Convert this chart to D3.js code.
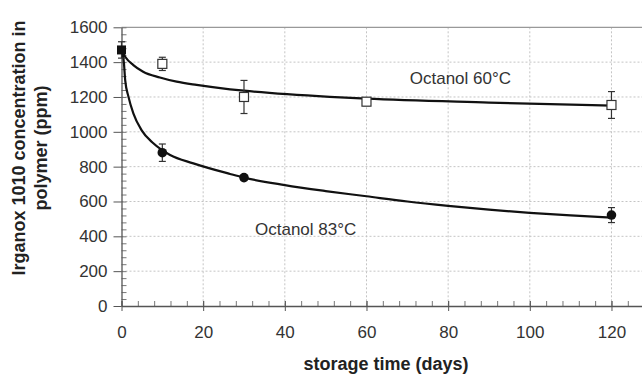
<!DOCTYPE html>
<html>
<head>
<meta charset="UTF-8">
<title>Irganox 1010 in polymer vs storage time</title>
<style>
    body { margin: 0; background: #fff; }
    svg { display: block; font-family: "Liberation Sans", Arial, Helvetica, sans-serif; }
    .tick-label { font-size: 17px; fill: #333; }
    .axis-title { font-size: 18px; font-weight: bold; fill: #222; }
    .series-label { font-size: 17px; fill: #333; }
    .grid line { stroke: #c4c4c4; stroke-dasharray: 2,2; }
</style>
<script src="https://d3js.org/d3.v7.min.js"></script>
</head>
<body>
<div id="chart"></div>
<script>
    // Octanol 60°C (open squares)
    const time60 = [10, 30, 60, 120];
    const conc60 = [1390, 1200, 1173, 1154];
    const err60 = [38, 95, 22, 77];

    // Octanol 83°C (filled circles)
    const time83 = [10, 30, 120];
    const conc83 = [880, 737, 522];
    const err83 = [50, 12, 43];

    // shared starting point (filled square)
    const time0 = [0];
    const conc0 = [1470];
    const err0 = [47];

    // fitted curves
    const fitTime60 = [0, 0.9, 2.9, 5.3, 9.4, 13.5, 18.4, 26.6, 30, 51, 60, 90, 120];
    const fitConc60 = [1470, 1431, 1383, 1345, 1312, 1288, 1269, 1244, 1236, 1201, 1190, 1168, 1150];
    const fitTime83 = [0, 0.6, 0.9, 1.7, 2.9, 4.9, 7.8, 11.9, 17.6, 26.6, 30, 40, 50, 60, 70, 80, 90, 100, 110, 120];
    const fitConc83 = [1470, 1393, 1297, 1202, 1106, 1010, 934, 867, 819, 758, 737, 694, 660, 630, 600, 575, 553, 535, 520, 507];

    const xTicks = [0, 20, 40, 60, 80, 100, 120];
    const yTicks = [0, 200, 400, 600, 800, 1000, 1200, 1400, 1600];

    const labels = [
        {text: "Octanol 60°C", t: 70.6, c: 1274},
        {text: "Octanol 83°C", t: 32.7, c: 408}
    ];

    const width = 642, height = 375;

    const svg = d3.select("#chart").append("svg")
        .attr("width", width)
        .attr("height", height);

    const x = d3.scaleLinear().domain([0, 130]).range([121.5, 652.3]);
    const y = d3.scaleLinear().domain([0, 1600]).range([306, 27.3]);

    // grid
    svg.append("g").attr("class", "grid")
        .selectAll("line")
        .data(yTicks.filter(d => d > 0 && d < 1600))
        .join("line")
        .attr("x1", x(0)).attr("x2", width)
        .attr("y1", d => y(d)).attr("y2", d => y(d));
    svg.append("g").attr("class", "grid")
        .selectAll("line")
        .data(xTicks.filter(d => d > 0))
        .join("line")
        .attr("x1", d => x(d)).attr("x2", d => x(d))
        .attr("y1", y(1600)).attr("y2", y(0));

    // top border
    svg.append("line")
        .attr("x1", x(0)).attr("x2", width)
        .attr("y1", y(1600)).attr("y2", y(1600))
        .attr("stroke", "#999").attr("stroke-width", 1.2);

    // minor ticks
    const yMinor = d3.range(0, 1601, 40);
    const xMinor = d3.range(0, 131, 4);
    svg.append("g")
        .attr("transform", `translate(${x(0)},0)`)
        .call(d3.axisRight(y).tickValues(yMinor).tickSize(5).tickFormat(""))
        .call(g => g.select(".domain").remove())
        .call(g => g.selectAll("line").attr("stroke", "#777"));
    svg.append("g")
        .attr("transform", `translate(0,${y(0)})`)
        .call(d3.axisTop(x).tickValues(xMinor).tickSize(5).tickFormat(""))
        .call(g => g.select(".domain").remove())
        .call(g => g.selectAll("line").attr("stroke", "#777"));

    // Y axis
    svg.append("g")
        .attr("transform", `translate(${x(0)},0)`)
        .call(d3.axisLeft(y).tickValues(yTicks).tickFormat(d3.format("d"))
            .tickSize(8).tickPadding(6).tickSizeOuter(0))
        .call(g => g.select(".domain").attr("stroke", "#555").attr("stroke-width", 1.3))
        .call(g => g.selectAll("line").attr("stroke", "#555"))
        .selectAll("text")
        .attr("class", "tick-label")
        .attr("font-family", null).attr("font-size", null).attr("fill", null);

    // X axis
    svg.append("g")
        .attr("transform", `translate(0,${y(0)})`)
        .call(d3.axisBottom(x).tickValues(xTicks).tickFormat(d3.format("d"))
            .tickSize(5).tickPadding(15).tickSizeOuter(0))
        .call(g => g.select(".domain").attr("stroke", "#555").attr("stroke-width", 1.6))
        .call(g => g.selectAll(".tick line").attr("stroke", "#555").attr("y1", -5))
        .selectAll("text")
        .attr("class", "tick-label")
        .attr("font-family", null).attr("font-size", null).attr("fill", null);

    // axis titles
    svg.append("text")
        .attr("class", "axis-title")
        .attr("text-anchor", "middle")
        .attr("x", 386).attr("y", 370)
        .text("storage time (days)");
    svg.append("text")
        .attr("class", "axis-title")
        .attr("text-anchor", "middle")
        .attr("transform", "translate(25,148) rotate(-90)")
        .text("Irganox 1010 concentration in");
    svg.append("text")
        .attr("class", "axis-title")
        .attr("text-anchor", "middle")
        .attr("transform", "translate(47,148) rotate(-90)")
        .text("polymer (ppm)");

    // fitted curves
    const line = d3.line()
        .x(d => x(d[0]))
        .y(d => y(d[1]))
        .curve(d3.curveMonotoneX);
    [[fitTime60, fitConc60], [fitTime83, fitConc83]].forEach(([ts, cs]) => {
        svg.append("path")
            .datum(ts.map((t, i) => [t, cs[i]]))
            .attr("fill", "none")
            .attr("stroke", "#111")
            .attr("stroke-width", 2.2)
            .attr("d", line);
    });

    // error bars
    function errorBars(ts, cs, es) {
        const g = svg.append("g").attr("stroke", "#333").attr("stroke-width", 1.2);
        ts.forEach((t, i) => {
            const cx = x(t);
            g.append("line").attr("x1", cx).attr("x2", cx)
                .attr("y1", y(cs[i] + es[i])).attr("y2", y(cs[i] - es[i]));
            g.append("line").attr("x1", cx - 3.5).attr("x2", cx + 3.5)
                .attr("y1", y(cs[i] + es[i])).attr("y2", y(cs[i] + es[i]));
            g.append("line").attr("x1", cx - 3.5).attr("x2", cx + 3.5)
                .attr("y1", y(cs[i] - es[i])).attr("y2", y(cs[i] - es[i]));
        });
    }
    errorBars(time60, conc60, err60);
    errorBars(time83, conc83, err83);
    errorBars(time0, conc0, err0);

    // markers
    svg.selectAll(".sq60")
        .data(time60.map((t, i) => [t, conc60[i]]))
        .join("rect")
        .attr("class", "sq60")
        .attr("x", d => x(d[0]) - 4.5).attr("y", d => y(d[1]) - 4.5)
        .attr("width", 9).attr("height", 9)
        .attr("fill", "#fff").attr("stroke", "#333").attr("stroke-width", 1.2);
    svg.selectAll(".dot83")
        .data(time83.map((t, i) => [t, conc83[i]]))
        .join("circle")
        .attr("class", "dot83")
        .attr("cx", d => x(d[0])).attr("cy", d => y(d[1]))
        .attr("r", 4.8)
        .attr("fill", "#111");
    svg.selectAll(".sq0")
        .data(time0.map((t, i) => [t, conc0[i]]))
        .join("rect")
        .attr("class", "sq0")
        .attr("x", d => x(d[0]) - 4.5).attr("y", d => y(d[1]) - 4.5)
        .attr("width", 9).attr("height", 9)
        .attr("fill", "#111");

    // series labels
    svg.selectAll(".series-label")
        .data(labels)
        .join("text")
        .attr("class", "series-label")
        .attr("x", d => x(d.t)).attr("y", d => y(d.c))
        .text(d => d.text);
</script>
</body>
</html>
